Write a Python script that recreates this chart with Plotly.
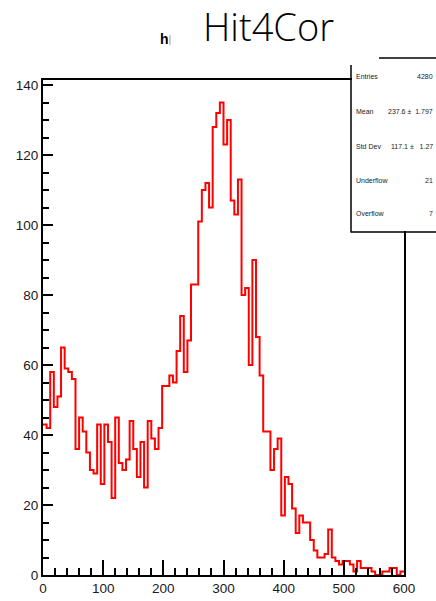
import numpy as np
import plotly.graph_objects as go

# Histogram "Hit4Cor": 100 bins of width 6 from 0 to 600
x_min, x_max, n_bins = 0.0, 600.0, 100
counts = [
    43, 42, 58, 48, 51, 65, 59, 58, 56, 36,
    45, 41, 35, 30, 29, 43, 26, 43, 38, 22,
    45, 32, 30, 33, 44, 36, 28, 38, 25, 44,
    39, 36, 42, 54, 54, 57, 55, 64, 74, 58,
    67, 83, 83, 101, 110, 112, 105, 128, 132, 135,
    123, 130, 107, 103, 113, 80, 82, 60, 90, 68,
    57, 41, 41, 30, 36, 39, 17, 28, 26, 19,
    12, 17, 15, 15, 10, 7, 5, 5, 6, 13,
    5, 4, 3, 4, 4, 3, 1, 4, 2, 2,
    2, 1, 0, 0, 1, 1, 2, 2, 0, 1,
]

stat_names = ["Entries", "Mean", "Std Dev", "Underflow", "Overflow"]
stat_values = ["4280", "237.6 \u00b1  1.797", "117.1 \u00b1   1.27", "21", "7"]

edges = np.linspace(x_min, x_max, n_bins + 1)
step_y = np.append(counts, counts[-1])

W, H = 436, 601
L, R, T, B = 43, 404, 80, 575  # frame in pixels


def px(x):
    return (x - L) / (R - L)


def py(y):
    return (B - y) / (B - T)


fig = go.Figure()
fig.add_trace(go.Scatter(
    x=edges, y=step_y, mode="lines", line_shape="hv",
    line=dict(color="#ff0000", width=2), hoverinfo="skip",
))

tick_font = dict(family="Liberation Sans, Arial, sans-serif", size=13.5, color="#1a1a1a")

fig.update_layout(
    width=W, height=H,
    margin=dict(l=L, r=W - R, t=T, b=H - B),
    paper_bgcolor="white", plot_bgcolor="white",
    showlegend=False,
    xaxis=dict(
        range=[x_min, x_max], showgrid=False, zeroline=False, automargin=False,
        showline=True, linecolor="black", linewidth=2, mirror=True,
        ticks="inside", ticklen=15, tickwidth=2, tickcolor="black",
        dtick=100, tick0=0, tickfont=tick_font,
        minor=dict(ticks="inside", ticklen=7, tickwidth=2, dtick=20, tick0=0,
                   tickcolor="black", showgrid=False),
    ),
    yaxis=dict(
        range=[0, (B - T) / 3.5], showgrid=False, zeroline=False, automargin=False,
        showline=True, linecolor="black", linewidth=2, mirror=True,
        ticks="inside", ticklen=10, tickwidth=2, tickcolor="black",
        dtick=20, tick0=0, tickfont=tick_font,
        minor=dict(ticks="inside", ticklen=5.5, tickwidth=2, dtick=5, tick0=0,
                   tickcolor="black", showgrid=False),
    ),
)

shapes = []
# statistics box (white, over the frame corner)
shapes.append(dict(type="rect", xref="paper", yref="paper",
                   x0=px(352), x1=px(437), y0=py(231), y1=py(59),
                   fillcolor="white", line=dict(width=0), layer="above"))
# box borders
shapes.append(dict(type="line", xref="paper", yref="paper",
                   x0=px(351), x1=px(351), y0=py(65), y1=py(232.5),
                   line=dict(color="black", width=1.5), layer="above"))
shapes.append(dict(type="line", xref="paper", yref="paper",
                   x0=px(351), x1=px(437), y0=py(232), y1=py(232),
                   line=dict(color="black", width=1.5), layer="above"))
shapes.append(dict(type="line", xref="paper", yref="paper",
                   x0=px(379), x1=px(437), y0=py(58), y1=py(58),
                   line=dict(color="black", width=1.5), layer="above"))
# small mark next to the histogram name
shapes.append(dict(type="line", xref="paper", yref="paper",
                   x0=px(170), x1=px(170), y0=py(35), y1=py(45),
                   line=dict(color="#999999", width=1), layer="above"))
fig.update_layout(shapes=shapes)

stat_font = dict(family="Liberation Sans, Arial, sans-serif", size=7, color="#222222")
row_y = [77, 112, 146, 180, 214]
annotations = []
for name, val, yy in zip(stat_names, stat_values, row_y):
    annotations.append(dict(text=name, xref="paper", yref="paper",
                            x=px(354), y=py(yy), xanchor="left", yanchor="middle",
                            showarrow=False, font=stat_font))
    annotations.append(dict(text=val, xref="paper", yref="paper",
                            x=px(435), y=py(yy), xanchor="right", yanchor="middle",
                            showarrow=False, font=stat_font))

annotations.append(dict(text="Hit4Cor", xref="paper", yref="paper",
                        x=px(268), y=py(26), xanchor="center", yanchor="middle",
                        showarrow=False,
                        font=dict(family="Open Sans, sans-serif", size=38,
                                  weight=300, color="black")))
annotations.append(dict(text="<b>h</b>", xref="paper", yref="paper",
                        x=px(164.5), y=py(39), xanchor="center", yanchor="middle",
                        showarrow=False,
                        font=dict(family="Liberation Sans, Arial, sans-serif", size=14, color="black")))
fig.update_layout(annotations=annotations)

fig.write_html("out.html")
